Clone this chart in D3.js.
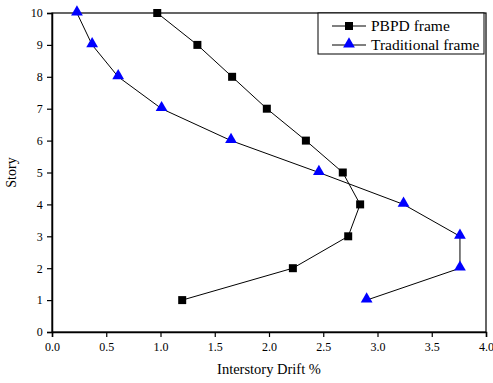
<!DOCTYPE html>
<html>
<head>
<meta charset="utf-8">
<script src="https://cdn.jsdelivr.net/npm/d3@7"></script>
<style>
  body { margin: 0; background: #fff; }
  svg text { font-family: "Liberation Serif", "Times New Roman", serif !important; fill: #000; }
</style>
</head>
<body>
<div id="container"></div>
<script>
/* CONSTANTS AND GLOBALS */
const width = 493,
  height = 383,
  margin = {top: 13, bottom: 51, left: 52, right: 7};

// data
const stories = [1, 2, 3, 4, 5, 6, 7, 8, 9, 10];
const pbpdDrift = [1.20, 2.22, 2.73, 2.84, 2.68, 2.34, 1.98, 1.66, 1.34, 0.97];
const tradDrift = [2.90, 3.76, 3.76, 3.24, 2.46, 1.65, 1.01, 0.61, 0.37, 0.23];
const xTicks = [0, 0.5, 1, 1.5, 2, 2.5, 3, 3.5, 4];
const yTicks = [0, 1, 2, 3, 4, 5, 6, 7, 8, 9, 10];
const seriesNames = ["PBPD frame", "Traditional frame"];

const svg = d3.select("#container")
  .append("svg")
  .attr("width", width)
  .attr("height", height);

const xScale = d3.scaleLinear()
  .domain([0, 4])
  .range([margin.left, width - margin.right]);

const yScale = d3.scaleLinear()
  .domain([0, 10])
  .range([height - margin.bottom, margin.top]);

// frame (top + right)
svg.append("rect")
  .attr("x", margin.left)
  .attr("y", margin.top)
  .attr("width", width - margin.right - margin.left)
  .attr("height", height - margin.bottom - margin.top)
  .attr("fill", "none")
  .attr("stroke", "#000")
  .attr("stroke-width", 1.2);

// axes
const xAxis = d3.axisBottom(xScale)
  .tickValues(xTicks)
  .tickSize(5)
  .tickFormat(d3.format(".1f"));
const yAxis = d3.axisLeft(yScale)
  .tickValues(yTicks)
  .tickSize(5)
  .tickFormat(d3.format("d"));

const gx = svg.append("g")
  .attr("transform", `translate(0,${height - margin.bottom})`)
  .call(xAxis);
const gy = svg.append("g")
  .attr("transform", `translate(${margin.left},0)`)
  .call(yAxis);

[gx, gy].forEach(g => {
  g.attr("font-family", null);
  g.select(".domain").attr("stroke-width", 1.5);
  g.selectAll(".tick line").attr("stroke-width", 1.2);
  g.selectAll(".tick text").attr("font-size", 12);
});
gx.selectAll(".tick text").attr("dy", "0.9em");
gy.selectAll(".tick text").attr("dx", "-0.1em");

// axis titles
svg.append("text")
  .attr("x", xScale(2))
  .attr("y", height - 9)
  .attr("text-anchor", "middle")
  .attr("font-size", 14.5)
  .text("Interstory Drift %");

svg.append("text")
  .attr("transform", `translate(16,${yScale(5)}) rotate(-90)`)
  .attr("text-anchor", "middle")
  .attr("font-size", 14)
  .text("Story");

// lines
const pbpd = stories.map((s, i) => ({story: s, drift: pbpdDrift[i]}));
const trad = stories.map((s, i) => ({story: s, drift: tradDrift[i]}));

const line = d3.line()
  .x(d => xScale(d.drift))
  .y(d => yScale(d.story));

svg.append("path")
  .datum(pbpd)
  .attr("d", line)
  .attr("fill", "none")
  .attr("stroke", "#000")
  .attr("stroke-width", 1);

svg.append("path")
  .datum(trad)
  .attr("d", line)
  .attr("fill", "none")
  .attr("stroke", "#000")
  .attr("stroke-width", 1);

const square = d3.symbol().type(d3.symbolSquare).size(64);
const triangle = d3.symbol().type(d3.symbolTriangle).size(60);

svg.selectAll("path.sq")
  .data(pbpd)
  .join("path")
  .attr("class", "sq")
  .attr("d", square)
  .attr("transform", d => `translate(${xScale(d.drift)},${yScale(d.story)})`)
  .attr("fill", "#000");

svg.selectAll("path.tri")
  .data(trad)
  .join("path")
  .attr("class", "tri")
  .attr("d", triangle)
  .attr("transform", d => `translate(${xScale(d.drift)},${yScale(d.story) - 1})`)
  .attr("fill", "#0000ff");

// legend
const lx = 318, ly = 13, lw = 166, lh = 41;
const legend = svg.append("g");
legend.append("rect")
  .attr("x", lx).attr("y", ly)
  .attr("width", lw).attr("height", lh)
  .attr("fill", "#fff")
  .attr("stroke", "#000")
  .attr("stroke-width", 1);

seriesNames.forEach((name, i) => {
  const cy = ly + 13 + i * 19;
  legend.append("line")
    .attr("x1", lx + 14).attr("x2", lx + 48)
    .attr("y1", cy).attr("y2", cy)
    .attr("stroke", "#000");
  legend.append("path")
    .attr("d", i === 0 ? square() : triangle())
    .attr("transform", `translate(${lx + 31},${i === 0 ? cy : cy - 1})`)
    .attr("fill", i === 0 ? "#000" : "#0000ff");
  legend.append("text")
    .attr("x", lx + 53)
    .attr("y", cy)
    .attr("dy", "0.35em")
    .attr("font-size", 15.5)
    .text(name);
});
</script>
</body>
</html>
